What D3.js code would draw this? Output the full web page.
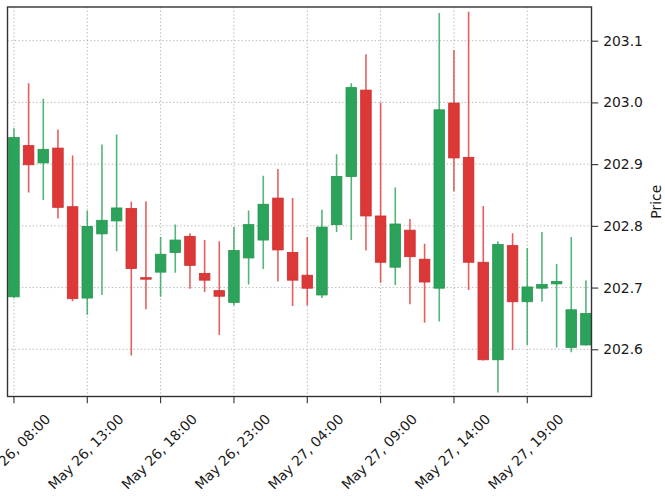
<!DOCTYPE html>
<html>
<head>
<meta charset="utf-8">
<script src="https://cdn.jsdelivr.net/npm/d3@7"></script>
<style>
  body { margin: 0; background: #fff; }
  svg { display: block; font-family: "DejaVu Sans", sans-serif; }
</style>
</head>
<body>
<svg></svg>
<script>
// hourly candles, May 26 08:00 -> May 27 23:00
let times = [
  "May 26, 08:00", "May 26, 09:00", "May 26, 10:00", "May 26, 11:00", "May 26, 12:00",
  "May 26, 13:00", "May 26, 14:00", "May 26, 15:00", "May 26, 16:00", "May 26, 17:00",
  "May 26, 18:00", "May 26, 19:00", "May 26, 20:00", "May 26, 21:00", "May 26, 22:00",
  "May 26, 23:00", "May 27, 00:00", "May 27, 01:00", "May 27, 02:00", "May 27, 03:00",
  "May 27, 04:00", "May 27, 05:00", "May 27, 06:00", "May 27, 07:00", "May 27, 08:00",
  "May 27, 09:00", "May 27, 10:00", "May 27, 11:00", "May 27, 12:00", "May 27, 13:00",
  "May 27, 14:00", "May 27, 15:00", "May 27, 16:00", "May 27, 17:00", "May 27, 18:00",
  "May 27, 19:00", "May 27, 20:00", "May 27, 21:00", "May 27, 22:00", "May 27, 23:00"
];

let opens = [
  202.685, 202.930, 202.902, 202.926, 202.831, 202.683, 202.787, 202.808, 202.828, 202.716,
  202.725, 202.757, 202.783, 202.723, 202.695, 202.676, 202.748, 202.777, 202.845, 202.757,
  202.720, 202.688, 202.802, 202.880, 203.020, 202.816, 202.733, 202.793, 202.746, 202.699,
  202.999, 202.911, 202.741, 202.583, 202.768, 202.677, 202.699, 202.706, 202.603, 202.607
];
let highs = [
  202.958, 203.031, 203.006, 202.956, 202.914, 202.825, 202.932, 202.948, 202.839, 202.840,
  202.782, 202.802, 202.788, 202.777, 202.775, 202.798, 202.825, 202.881, 202.892, 202.845,
  202.782, 202.826, 202.916, 203.031, 203.078, 203.000, 202.862, 202.811, 202.771, 203.145,
  203.085, 203.147, 202.832, 202.775, 202.788, 202.764, 202.790, 202.738, 202.782, 202.712
];
let lows = [
  202.683, 202.854, 202.842, 202.812, 202.678, 202.656, 202.688, 202.759, 202.590, 202.665,
  202.685, 202.724, 202.698, 202.693, 202.623, 202.671, 202.705, 202.730, 202.710, 202.670,
  202.671, 202.683, 202.790, 202.777, 202.760, 202.708, 202.704, 202.673, 202.643, 202.645,
  202.856, 202.696, 202.582, 202.530, 202.599, 202.607, 202.677, 202.603, 202.595, 202.606
];
let closes = [
  202.943, 202.899, 202.924, 202.830, 202.682, 202.799, 202.809, 202.829, 202.731, 202.714,
  202.754, 202.777, 202.736, 202.712, 202.686, 202.760, 202.802, 202.835, 202.761, 202.712,
  202.699, 202.798, 202.880, 203.024, 202.816, 202.741, 202.803, 202.750, 202.709, 202.988,
  202.910, 202.741, 202.583, 202.770, 202.677, 202.701, 202.705, 202.710, 202.664, 202.658
];

let xTickIndex = [0, 5, 10, 15, 20, 25, 30, 35];
let yTicks = [202.6, 202.7, 202.8, 202.9, 203.0, 203.1];

let width = 665;
let height = 496;
let plotLeft = 7.5, plotRight = 591.5, plotTop = 7, plotBottom = 396.5;

let upColor = "#2ba35a";
let downColor = "#dd3838";

let svg = d3.select("svg").attr("width", width).attr("height", height);

let xScale = d3.scaleLinear().domain([-0.44, 39.38]).range([plotLeft, plotRight]);
let yScale = d3.scaleLinear().domain([202.5235, 203.1546]).range([plotBottom, plotTop]);

let candles = times.map((t, i) => ({
  i: i, t: t, o: opens[i], h: highs[i], l: lows[i], c: closes[i]
}));

svg.append("clipPath").attr("id", "plot-clip")
  .append("rect")
  .attr("x", plotLeft).attr("y", plotTop)
  .attr("width", plotRight - plotLeft).attr("height", plotBottom - plotTop);

// grid
let grid = svg.append("g").attr("class", "grid");
grid.selectAll(".gx")
  .data(xTickIndex)
  .enter()
  .append("line")
  .attr("x1", d => xScale(d)).attr("x2", d => xScale(d))
  .attr("y1", plotTop).attr("y2", plotBottom)
  .attr("stroke", "#b0b0b0").attr("stroke-width", 0.9)
  .attr("stroke-dasharray", "1.4,2.2");
grid.selectAll(".gy")
  .data(yTicks)
  .enter()
  .append("line")
  .attr("x1", plotLeft).attr("x2", plotRight)
  .attr("y1", d => yScale(d)).attr("y2", d => yScale(d))
  .attr("stroke", "#b0b0b0").attr("stroke-width", 0.9)
  .attr("stroke-dasharray", "1.4,2.2");

// candles
let step = xScale(1) - xScale(0);
let bodyW = step * 0.72;
let plot = svg.append("g").attr("clip-path", "url(#plot-clip)");

plot.selectAll(".wick")
  .data(candles)
  .enter()
  .append("line")
  .attr("class", "wick")
  .attr("x1", d => xScale(d.i)).attr("x2", d => xScale(d.i))
  .attr("y1", d => yScale(d.h)).attr("y2", d => yScale(d.l))
  .attr("stroke", d => d.c >= d.o ? upColor : downColor)
  .attr("stroke-opacity", 0.8)
  .attr("stroke-width", 1.6);

plot.selectAll(".body")
  .data(candles)
  .enter()
  .append("rect")
  .attr("class", "body")
  .attr("x", d => xScale(d.i) - bodyW / 2)
  .attr("width", bodyW)
  .attr("y", d => yScale(Math.max(d.o, d.c)))
  .attr("height", d => Math.max(1.5, Math.abs(yScale(d.o) - yScale(d.c))))
  .attr("fill", d => d.c >= d.o ? upColor : downColor)
  .attr("stroke", d => d.c >= d.o ? "#27964f" : "#cc3030")
  .attr("stroke-width", 0.8);

// frame
svg.append("rect")
  .attr("x", plotLeft).attr("y", plotTop)
  .attr("width", plotRight - plotLeft).attr("height", plotBottom - plotTop)
  .attr("fill", "none").attr("stroke", "#333").attr("stroke-width", 1.4);

// y axis on right
let yAxis = d3.axisRight(yScale)
  .tickValues(yTicks)
  .tickFormat(d3.format(".1f"))
  .tickSize(6.7)
  .tickPadding(5);
let gy = svg.append("g")
  .attr("transform", "translate(" + plotRight + ",0)")
  .call(yAxis);
gy.select(".domain").remove();
gy.selectAll(".tick line").attr("stroke", "#333").attr("stroke-width", 1.1);
gy.selectAll(".tick text")
  .attr("fill", "#1a1a1a")
  .style("font-size", "13.9px")
  .style("font-family", "DejaVu Sans");

// x axis ticks
let gx = svg.append("g").attr("class", "x-axis");
gx.selectAll("line")
  .data(xTickIndex)
  .enter()
  .append("line")
  .attr("x1", d => xScale(d)).attr("x2", d => xScale(d))
  .attr("y1", plotBottom).attr("y2", plotBottom + 6.7)
  .attr("stroke", "#333").attr("stroke-width", 1.1);

let labels = gx.selectAll("g.lab")
  .data(xTickIndex)
  .enter()
  .append("g")
  .attr("class", "lab");
labels.append("text")
  .text(d => times[d])
  .attr("text-anchor", "middle")
  .attr("dominant-baseline", "central")
  .attr("fill", "#1a1a1a")
  .style("font-size", "13.9px")
  .style("font-family", "DejaVu Sans");
labels.each(function (d) {
  let txt = d3.select(this).select("text");
  let w = txt.node().getComputedTextLength();
  let h = 13.9 * 1.05;
  let bboxH = (w + h) / Math.SQRT2;
  let cy = plotBottom + 6.7 + 8 + bboxH / 2;
  d3.select(this).attr("transform", "translate(" + (xScale(d) - 1.5) + "," + cy + ") rotate(-45)");
});

// price label
svg.append("text")
  .text("Price")
  .attr("transform", "translate(656," + ((plotTop + plotBottom) / 2) + ") rotate(-90)")
  .attr("text-anchor", "middle")
  .attr("dominant-baseline", "central")
  .attr("fill", "#1a1a1a")
  .style("font-size", "13.9px")
  .style("font-family", "DejaVu Sans");
</script>
</body>
</html>
